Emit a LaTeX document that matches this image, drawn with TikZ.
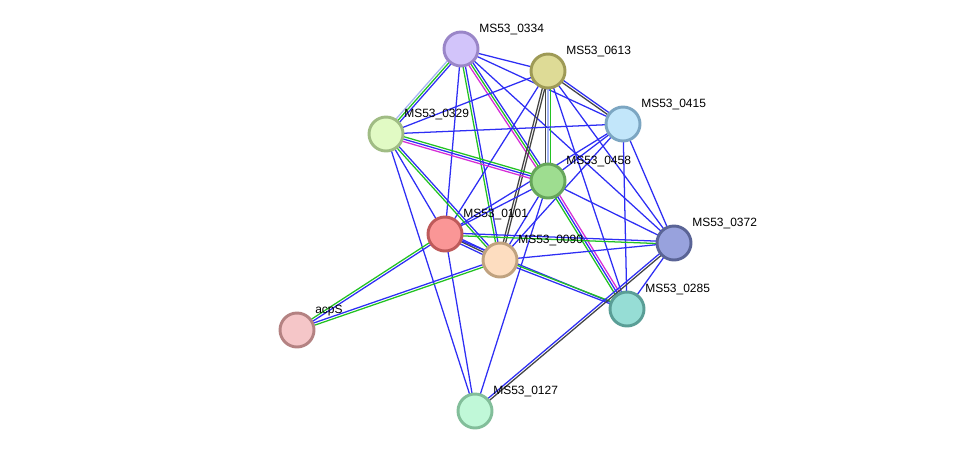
\documentclass[tikz,border=0pt]{standalone}
\usepackage{fontspec}
\setmainfont{Liberation Sans}
\usetikzlibrary{calc,backgrounds}
\definecolor{cooc}{HTML}{2E2EF4}
\definecolor{nbh}{HTML}{22C222}
\definecolor{expt}{HTML}{D62CD6}
\definecolor{coex}{HTML}{444444}
\definecolor{homol}{HTML}{A6B6F4}

\tikzset{
  prot/.style={circle, minimum size=25.5pt, inner sep=0pt, line width=2.2pt},
  lab/.style={anchor=base west, inner sep=0pt, font=\fontsize{9}{10}\selectfont},
  link/.style={line width=0.95pt},
}
% one connector = parallel lines, offset/colour pairs
\newcommand{\pedge}[3]{%
  \foreach \off/\col in {#3}
    \draw[link,\col] ($(#1)!\off*0.9pt!90:(#2)$) -- ($(#2)!\off*0.9pt!-90:(#1)$);
}

\begin{document}
\begin{tikzpicture}[x=0.75pt,y=-0.75pt]
    \useasboundingbox (0,0) rectangle (975,457);
    % % ----- proteins ----- % %
    \node[prot, fill={rgb,255:red,210;green,196;blue,250}, draw={rgb,255:red,154;green,134;blue,200}] (p0334) at (461,49) {};
    \node[prot, fill={rgb,255:red,222;green,219;blue,150}, draw={rgb,255:red,158;green,154;blue,86}] (p0613) at (548,71) {};
    \node[prot, fill={rgb,255:red,194;green,230;blue,250}, draw={rgb,255:red,124;green,166;blue,194}] (p0415) at (623,124) {};
    \node[prot, fill={rgb,255:red,225;green,250;blue,196}, draw={rgb,255:red,160;green,188;blue,132}] (p0329) at (386,134) {};
    \node[prot, fill={rgb,255:red,158;green,221;blue,144}, draw={rgb,255:red,102;green,166;blue,90}] (p0458) at (548,181) {};
    \node[prot, fill={rgb,255:red,250;green,150;blue,150}, draw={rgb,255:red,190;green,90;blue,90}] (p0101) at (445,234) {};
    \node[prot, fill={rgb,255:red,253;green,221;blue,192}, draw={rgb,255:red,192;green,162;blue,127}] (p0090) at (500,260) {};
    \node[prot, fill={rgb,255:red,152;green,162;blue,221}, draw={rgb,255:red,90;green,100;blue,150}] (p0372) at (674,243) {};
    \node[prot, fill={rgb,255:red,150;green,221;blue,213}, draw={rgb,255:red,90;green,158;blue,150}] (p0285) at (627,309) {};
    \node[prot, fill={rgb,255:red,245;green,198;blue,200}, draw={rgb,255:red,180;green,130;blue,130}] (pacpS) at (297,330) {};
    \node[prot, fill={rgb,255:red,192;green,248;blue,216}, draw={rgb,255:red,130;green,190;blue,154}] (p0127) at (475,411) {};
    % % ----- labels ----- % %
    \node[lab] (t0334) at ($(p0334)+(18,-16.5)$) {MS53\_0334};
    \node[lab] (t0613) at ($(p0613)+(18,-16.5)$) {MS53\_0613};
    \node[lab] (t0415) at ($(p0415)+(18,-16.5)$) {MS53\_0415};
    \node[lab] (t0329) at ($(p0329)+(18,-16.5)$) {MS53\_0329};
    \node[lab] (t0458) at ($(p0458)+(18,-16.5)$) {MS53\_0458};
    \node[lab] (t0101) at ($(p0101)+(18,-16.5)$) {MS53\_0101};
    \node[lab] (t0090) at ($(p0090)+(18,-16.5)$) {MS53\_0090};
    \node[lab] (t0372) at ($(p0372)+(18,-16.5)$) {MS53\_0372};
    \node[lab] (t0285) at ($(p0285)+(18,-16.5)$) {MS53\_0285};
    \node[lab] (tacpS) at ($(pacpS)+(18,-16.5)$) {acpS};
    \node[lab] (t0127) at ($(p0127)+(18,-16.5)$) {MS53\_0127};
    % % ----- edges ----- % %
    \begin{scope}[on background layer]
    \pedge{p0334}{p0329}{-2/homol,0/nbh,2/cooc}		% 0334-0329
    \pedge{p0334}{p0613}{0/cooc}		% 0334-0613
    \pedge{p0334}{p0415}{0/cooc}		% 0334-0415
    \pedge{p0334}{p0458}{-2/expt,0/nbh,2/cooc}		% 0334-0458
    \pedge{p0334}{p0372}{0/cooc}		% 0334-0372
    \pedge{p0334}{p0101}{0/cooc}		% 0334-0101
    \pedge{p0334}{p0090}{-1/nbh,1/cooc}		% 0334-0090
    \pedge{p0613}{p0329}{0/cooc}		% 0613-0329
    \pedge{p0613}{p0415}{-1/coex,1/cooc}		% 0613-0415
    \pedge{p0613}{p0458}{-2/coex,0/homol,2/nbh}		% 0613-0458
    \pedge{p0613}{p0090}{-1/coex,1/coex}		% 0613-0090
    \pedge{p0613}{p0101}{0/cooc}		% 0613-0101
    \pedge{p0613}{p0372}{0/cooc}		% 0613-0372
    \pedge{p0613}{p0285}{0/cooc}		% 0613-0285
    \pedge{p0415}{p0329}{0/cooc}		% 0415-0329
    \pedge{p0415}{p0458}{0/cooc}		% 0415-0458
    \pedge{p0415}{p0101}{0/cooc}		% 0415-0101
    \pedge{p0415}{p0090}{0/cooc}		% 0415-0090
    \pedge{p0415}{p0372}{0/cooc}		% 0415-0372
    \pedge{p0415}{p0285}{0/cooc}		% 0415-0285
    \pedge{p0329}{p0458}{-2/expt,0/cooc,2/nbh}		% 0329-0458
    \pedge{p0329}{p0090}{-1/nbh,1/cooc}		% 0329-0090
    \pedge{p0329}{p0101}{0/cooc}		% 0329-0101
    \pedge{p0329}{p0127}{0/cooc}		% 0329-0127
    \pedge{p0458}{p0101}{0/cooc}		% 0458-0101
    \pedge{p0458}{p0090}{0/cooc}		% 0458-0090
    \pedge{p0458}{p0372}{0/cooc}		% 0458-0372
    \pedge{p0458}{p0285}{-2/nbh,0/cooc,2/expt}		% 0458-0285
    \pedge{p0458}{p0127}{0/cooc}		% 0458-0127
    \pedge{p0101}{p0090}{-2/cooc,0/coex,2/cooc}		% 0101-0090
    \pedge{p0101}{p0372}{-1/nbh,1/cooc}		% 0101-0372
    \pedge{p0101}{p0285}{0/cooc}		% 0101-0285
    \pedge{p0101}{pacpS}{-1/nbh,1/cooc}		% 0101-acpS
    \pedge{p0101}{p0127}{0/cooc}		% 0101-0127
    \pedge{p0090}{p0372}{0/cooc}		% 0090-0372
    \pedge{p0090}{p0285}{-1/cooc,1/nbh}		% 0090-0285
    \pedge{p0090}{pacpS}{-1/cooc,1/nbh}		% 0090-acpS
    \pedge{p0372}{p0285}{0/cooc}		% 0372-0285
    \pedge{p0372}{p0127}{-1/cooc,1/coex}		% 0372-0127
    \end{scope}
\end{tikzpicture}
\end{document}
